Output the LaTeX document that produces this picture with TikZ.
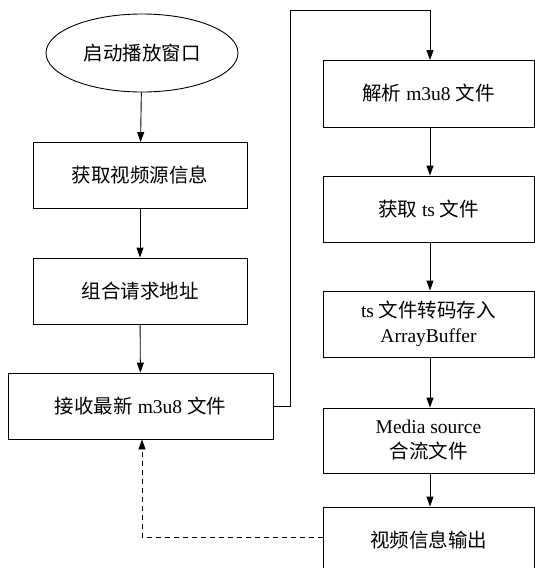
\documentclass[tikz,border=0pt]{standalone}
\usepackage{fontspec}
\setmainfont{Liberation Serif}
\newfontfamily\cjk{Noto Sans CJK SC}[Scale=1.0]
\usetikzlibrary{arrows.meta,shapes.geometric}
\begin{document}
\begin{tikzpicture}[x=1pt,y=-1pt,
  every node/.style={font=\fontsize{19.5}{25}\selectfont},
  boxL/.style={draw,line width=0.9pt,minimum height=66pt,inner sep=0pt,align=center},
  conn/.style={line width=0.9pt,-{Triangle[length=10pt,width=7pt]}},
  dconn/.style={conn,dash pattern=on 5pt off 4pt}]
\useasboundingbox (0,0) rectangle (535,568);
\node[draw,ellipse,line width=0.9pt,minimum width=192pt,minimum height=78pt,inner sep=0pt] (start) at (142,53) {\cjk 启动播放窗口};
\node[boxL,minimum width=214pt] (b1) at (140,175.5) {\cjk 获取视频源信息};
\node[boxL,minimum width=214pt] (b2) at (140,291) {\cjk 组合请求地址};
\node[boxL,minimum width=265pt] (b3) at (140.5,406) {{\cjk 接收最新} m3u8 {\cjk 文件}};
\node[boxL,minimum width=211pt,minimum height=67pt] (r1) at (428.5,93.5) {{\cjk 解析} m3u8 {\cjk 文件}};
\node[boxL,minimum width=211pt] (r2) at (428.5,209) {{\cjk 获取} ts {\cjk 文件}};
\node[boxL,minimum width=211pt] (r3) at (428.5,324) {ts {\cjk 文件转码存入}\\ArrayBuffer};
\node[boxL,minimum width=211pt,minimum height=65pt] (r4) at (428.5,440.5) {Media source\\{\cjk 合流文件}};
\node[boxL,minimum width=211pt] (r5) at (428.5,540) {\cjk 视频信息输出};
\draw[conn] (start) -- (b1);
\draw[conn] (b1) -- (b2);
\draw[conn] (b2) -- (b3);
\draw[conn] (b3.east) -- (290,406) -- (290,10) -- (430,10) -- (430,60);
\draw[conn] (r1.south -| 430,0) -- (r2.north -| 430,0);
\draw[conn] (r2.south -| 430,0) -- (r3.north -| 430,0);
\draw[conn] (r3.south -| 430,0) -- (r4.north -| 430,0);
\draw[conn] (r4.south -| 430,0) -- (r5.north -| 430,0);
\draw[dconn] (r5.west |- 0,537) -- (142,537) -- (b3.south -| 142,0);
\end{tikzpicture}
\end{document}
